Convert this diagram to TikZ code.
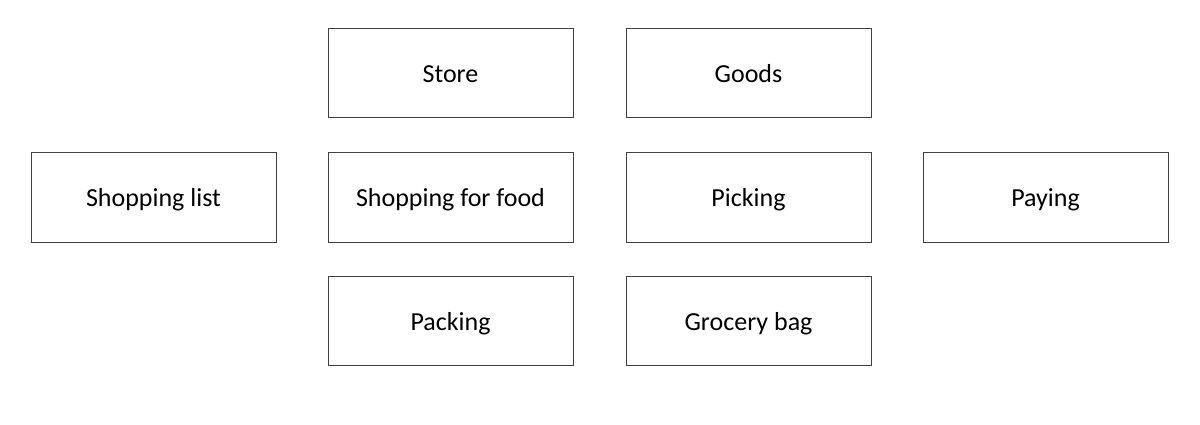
\documentclass[tikz,border=0pt]{standalone}
\usepackage{fontspec}
\setmainfont{Carlito}
\begin{document}
\begin{tikzpicture}[x=1pt,y=-1pt,
  box/.style={draw=black!75,line width=1pt,minimum width=245pt,minimum height=89pt,inner sep=0pt,text height=21.5pt,text depth=3pt,font=\fontsize{26}{30}\selectfont,fill=white}]
\useasboundingbox[fill=white] (0,0) rectangle (1200,425);
\node[box] (store) at (450.5,73.5) {Store};
\node[box] (goods) at (748.5,73.5) {Goods};
\node[box] (list) at (153.5,197.5) {Shopping list};
\node[box] (shop) at (450.5,197.5) {Shopping for food};
\node[box] (pick) at (748.5,197.5) {Picking};
\node[box] (pay) at (1045.5,197.5) {Paying};
\node[box] (pack) at (450.5,321) {Packing};
\node[box] (bag) at (748.5,321) {Grocery bag};
\end{tikzpicture}
\end{document}
